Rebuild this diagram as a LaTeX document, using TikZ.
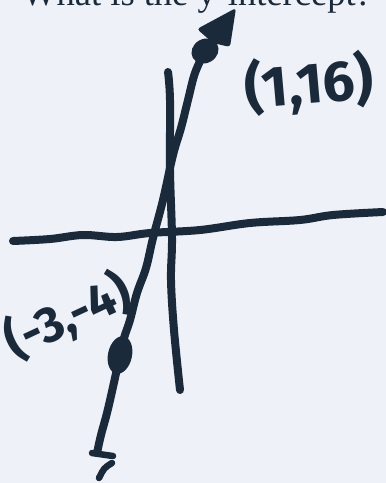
\documentclass[tikz,border=0pt]{standalone}
\usepackage{fontspec}
\setmainfont{Liberation Serif}
\newfontfamily\handfont{Fira Sans}
\usetikzlibrary{shapes.geometric}
\definecolor{paper}{HTML}{EEF2F8}
\definecolor{ink}{HTML}{1B2A3B}
\begin{document}
\begin{tikzpicture}[x=1pt,y=-1pt,
  stroke/.style={draw=ink,line width=8pt,line cap=round,line join=round},
  thinstroke/.style={draw=ink,line width=6.5pt,line cap=round,line join=round},
  handlabel/.style={text=ink,font=\handfont\bfseries\fontsize{#1}{#1}\selectfont,inner sep=0pt},
  dotmark/.style={fill=ink,ellipse,inner sep=0pt}]
\useasboundingbox (0,0) rectangle (386,483);
\clip (0,0) rectangle (386,483);
\fill[paper] (0,0) rectangle (386,483);
% printed question, cut off at the top
\node[anchor=base west,inner sep=0pt,text=ink,font=\fontsize{36.5}{36.5}\selectfont] (question) at (22,5) {What is the y-intercept?};
% x-axis
\coordinate (xl) at (13,241);
\coordinate (xr) at (383,212);
\draw[stroke] plot[smooth,tension=0.6] coordinates {(xl) (50,239) (83,235) (117,237) (150,233) (200,230) (250,223) (300,220) (333,215) (xr)};
% y-axis
\coordinate (yt) at (168,72);
\coordinate (yb) at (180,390);
\draw[stroke] plot[smooth,tension=0.6] coordinates {(yt) (170,100) (170,170) (172,238) (171,280) (174,330) (yb)};
% points
\node[dotmark,minimum width=24pt,minimum height=38pt,rotate=-12] (pA) at (120,355) {};
\node[dotmark,minimum width=28pt,minimum height=24pt,rotate=30] (pB) at (205,51) {};
% the line
\coordinate (lb) at (97,453);
\draw[stroke] plot[smooth,tension=0.6] coordinates {(lb) (101,435) (107,413) (113,387) (pA) (124,338) (130,320) (137,293) (146,268) (153,238) (163,200) (173,155) (181,128) (188,100) (195,73) (pB)};
% top arrowhead
\coordinate (ah) at (236,8);
\fill[ink,rounded corners=3pt] (197,29) -- (ah) -- (230,47) -- (213,43) -- cycle;
% bottom end
\coordinate (bt1) at (92,453);
\coordinate (bt2) at (113,456);
\draw[thinstroke] (bt1) -- (bt2);
\coordinate (bc1) at (112,463);
\coordinate (bc2) at (99,478);
\draw[thinstroke] (bc1) .. controls (104,468) .. (bc2);
% labels
\node[handlabel=57,rotate=5] (lbB) at (309,84) {(1,16)};
\node[handlabel=50,rotate=25] (lbA) at (68,316) {(-3,-4)};
\end{tikzpicture}
\end{document}
